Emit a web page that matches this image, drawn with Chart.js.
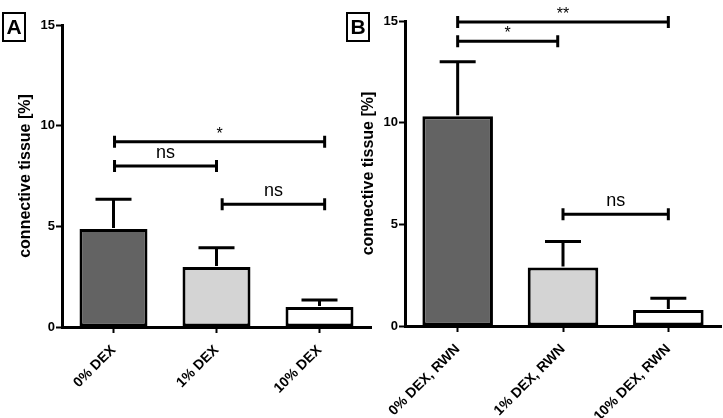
<!DOCTYPE html>
<html>
<head>
<meta charset="utf-8">
<script src="https://cdn.jsdelivr.net/npm/chart.js@4.4.1/dist/chart.umd.min.js"></script>
<style>
  body { margin: 0; background: #fff; }
  #wrap { position: relative; width: 723px; height: 418px; overflow: hidden; }
  canvas { position: absolute; top: 0; }
  #chartA { left: 0; }
  #chartB { left: 343px; }
</style>
</head>
<body>
<div id="wrap">
  <canvas id="chartA" width="380" height="418"></canvas>
  <canvas id="chartB" width="380" height="418"></canvas>
</div>
<script>
// panel A
var catsA = ["0% DEX", "1% DEX", "10% DEX"];
var meanA = [4.87, 2.98, 0.99];
var semA = [1.48, 0.96, 0.35];
// [from, to, level, label]
var bracketsA = [[0.01, 2.05, 9.2, "*"], [0.01, 1.0, 8.0, "ns"], [1.055, 2.05, 6.1, "ns"]];

// panel B
var catsB = ["0% DEX, RWN", "1% DEX, RWN", "10% DEX, RWN"];
var meanB = [10.32, 2.88, 0.79];
var semB = [2.67, 1.28, 0.57];
var bracketsB = [[0, 2, 14.95, "**"], [0, 0.95, 14.0, "*"], [1, 2, 5.49, "ns"]];

var barColors = ["#636363", "#d4d4d4", "#ffffff"];
var yTicks = [0, 5, 10, 15];

var FONT = 'Arial, "Liberation Sans", sans-serif';

function makeChart(id, cats, means, sems, brackets, letter, opt) {
  var extras = {
    id: "extras",
    afterDatasetsDraw: function (chart) {
      var ctx = chart.ctx, x = chart.scales.x, y = chart.scales.y;
      var meta = chart.getDatasetMeta(0);
      ctx.save();
      ctx.strokeStyle = "#000";
      ctx.fillStyle = "#000";
      ctx.lineWidth = 3;
      // error bars (mean + SEM, upper only)
      meta.data.forEach(function (bar, i) {
        var top = y.getPixelForValue(means[i]);
        var hi = y.getPixelForValue(means[i] + sems[i]);
        ctx.beginPath();
        ctx.moveTo(bar.x, top - 1);
        ctx.lineTo(bar.x, hi);
        ctx.moveTo(bar.x - 18, hi);
        ctx.lineTo(bar.x + 18, hi);
        ctx.stroke();
      });
      // significance brackets
      brackets.forEach(function (b) {
        var x1 = x.getPixelForValue(b[0]);
        var x2 = x.getPixelForValue(b[1]);
        var yy = y.getPixelForValue(b[2]);
        ctx.beginPath();
        ctx.moveTo(x1, yy); ctx.lineTo(x2, yy);
        ctx.moveTo(x1, yy - 6); ctx.lineTo(x1, yy + 6);
        ctx.moveTo(x2, yy - 6); ctx.lineTo(x2, yy + 6);
        ctx.stroke();
        ctx.textAlign = "center";
        ctx.textBaseline = "alphabetic";
        if (b[3] === "ns") {
          ctx.font = "18px " + FONT;
          ctx.fillText(b[3], (x1 + x2) / 2, yy - 8);
        } else {
          ctx.font = "16px " + FONT;
          ctx.fillText(b[3], (x1 + x2) / 2, yy - 3);
        }
      });
      // panel letter box
      ctx.lineWidth = 2;
      ctx.strokeRect(opt.box[0], 13, 22, 28);
      ctx.font = "bold 21px " + FONT;
      ctx.textAlign = "center";
      ctx.textBaseline = "middle";
      ctx.fillText(letter, opt.box[0] + 11, 28);
      ctx.restore();
    }
  };

  return new Chart(id, {
    type: "bar",
    data: {
      labels: cats,
      datasets: [{
        data: means,
        backgroundColor: barColors,
        borderColor: "#000",
        borderWidth: 3,
        borderSkipped: false,
        categoryPercentage: 1.0,
        barPercentage: opt.barPct
      }]
    },
    options: {
      responsive: false,
      animation: false,
      layout: { padding: { top: opt.top, right: opt.right, left: 0, bottom: 0 } },
      plugins: { legend: { display: false }, tooltip: { enabled: false } },
      scales: {
        x: {
          offset: true,
          grid: { offset: false, drawOnChartArea: false, tickLength: 6, tickWidth: 2, tickColor: "#000" },
          border: { color: "#000", width: 3 },
          ticks: {
            color: "#000", maxRotation: 45, minRotation: 45, padding: 9,
            font: { family: FONT, weight: "bold", size: 14 }
          },
          afterFit: function (s) { s.height = opt.xh; }
        },
        y: {
          min: 0, max: 15,
          afterBuildTicks: function (s) { s.ticks = yTicks.map(function (v) { return { value: v }; }); },
          grid: { drawOnChartArea: false, tickLength: 6, tickWidth: 2, tickColor: "#000" },
          border: { color: "#000", width: 3 },
          ticks: { color: "#000", padding: 1, font: { family: FONT, weight: "bold", size: 13 } },
          title: {
            display: true, text: "connective tissue [%]", color: "#000",
            font: { family: FONT, weight: "bold", size: 16 },
            padding: { top: 16, bottom: 0 }
          },
          afterFit: function (s) { s.width = 62; }
        }
      }
    },
    plugins: [extras]
  });
}

makeChart("chartA", catsA, meanA, semA, bracketsA, "A",
  { top: 25, right: 9, xh: 91, barPct: 0.66, box: [3] });
makeChart("chartB", catsB, meanB, semB, bracketsB, "B",
  { top: 21, right: 2, xh: 92, barPct: 0.67, box: [4] });
</script>
</body>
</html>
